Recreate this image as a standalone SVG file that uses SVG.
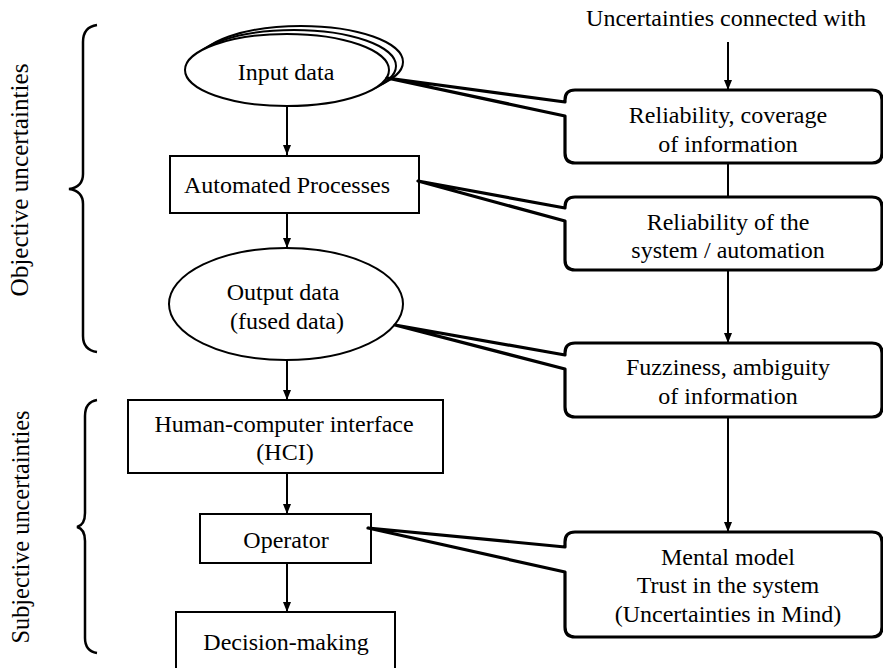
<svg xmlns="http://www.w3.org/2000/svg" width="883" height="668" viewBox="0 0 883 668">
<defs>
<marker id="arr" markerUnits="userSpaceOnUse" markerWidth="10" markerHeight="10" viewBox="0 0 10 10" refX="10" refY="5" orient="auto">
<path d="M0,1 L10,5 L0,9 Z" fill="#000"/>
</marker>
<style>
text{font-family:'Liberation Serif','Times New Roman',Times,'DejaVu Serif',serif;fill:#000;text-anchor:middle}
.t{font-size:24px}
.v{font-size:26px}
.node{fill:#fff;stroke:#000;stroke-width:2}
.call{fill:#fff;stroke:#000;stroke-width:3.2;stroke-linejoin:round}
.conn{fill:none;stroke:#000;stroke-width:2;marker-end:url(#arr)}
.plain{fill:none;stroke:#000;stroke-width:2}
.brace{fill:none;stroke:#000;stroke-width:2.5}
</style>
</defs>
<rect width="883" height="668" fill="#fff"/>

<g id="connectors">
<line class="conn" x1="287" y1="106" x2="287" y2="155"/>
<line class="conn" x1="287" y1="213" x2="287" y2="248"/>
<line class="conn" x1="287" y1="360" x2="287" y2="400"/>
<line class="conn" x1="287" y1="473" x2="287" y2="514"/>
<line class="conn" x1="287" y1="563" x2="287" y2="612"/>
<line class="conn" x1="728" y1="42" x2="728" y2="90"/>
<line class="plain" x1="728" y1="163" x2="728" y2="197"/>
<line class="conn" x1="728" y1="270" x2="728" y2="343"/>
<line class="conn" x1="728" y1="417" x2="728" y2="532"/>
</g>

<g id="input-data">
<ellipse class="node" cx="301" cy="62" rx="102" ry="36"/>
<ellipse class="node" cx="294" cy="66" rx="102" ry="36"/>
<ellipse class="node" cx="287" cy="70" rx="102" ry="36"/>
<text class="t" x="286" y="80" font-family="Liberation Serif, serif">Input data</text>
</g>

<g id="automated-processes">
<rect class="node" x="170" y="156" width="249" height="57"/>
<text class="t" x="287" y="193" font-family="Liberation Serif, serif">Automated Processes</text>
</g>

<g id="output-data">
<ellipse class="node" cx="286" cy="304" rx="117" ry="56"/>
<text class="t" x="283" y="300">Output data</text>
<text class="t" x="287" y="329">(fused data)</text>
</g>

<g id="hci">
<rect class="node" x="128" y="400" width="315" height="73"/>
<text class="t" x="284" y="432">Human-computer interface</text>
<text class="t" x="285" y="460">(HCI)</text>
</g>

<g id="operator">
<rect class="node" x="200" y="514" width="171" height="49"/>
<text class="t" x="286" y="548">Operator</text>
</g>

<g id="decision-making">
<rect class="node" x="176" y="612" width="219" height="60"/>
<text class="t" x="286" y="650">Decision-making</text>
</g>

<g id="header">
<text class="t" x="726" y="26">Uncertainties connected with</text>
</g>

<g id="callout-reliability-coverage">
<path class="call" d="M575 90 H872 Q882 90 882 100 V153 Q882 163 872 163 H575 Q565 163 565 153 V116 L387 78 L565 102 V100 Q565 90 575 90 Z"/>
<text class="t" x="728" y="123">Reliability, coverage</text>
<text class="t" x="728" y="152">of information</text>
</g>

<g id="callout-reliability-system">
<path class="call" d="M575 197 H872 Q882 197 882 207 V260 Q882 270 872 270 H575 Q565 270 565 260 V221 L418 181 L565 208 V207 Q565 197 575 197 Z"/>
<text class="t" x="728" y="230">Reliability of the</text>
<text class="t" x="728" y="258">system / automation</text>
</g>

<g id="callout-fuzziness">
<path class="call" d="M575 343 H872 Q882 343 882 353 V407 Q882 417 872 417 H575 Q565 417 565 407 V369 L395 325 L565 355 V353 Q565 343 575 343 Z"/>
<text class="t" x="728" y="375">Fuzziness, ambiguity</text>
<text class="t" x="728" y="404">of information</text>
</g>

<g id="callout-mental-model">
<path class="call" d="M575 532 H872 Q882 532 882 542 V627 Q882 637 872 637 H575 Q565 637 565 627 V572 L368 528 L565 547 V542 Q565 532 575 532 Z"/>
<text class="t" x="728" y="565">Mental model</text>
<text class="t" x="728" y="593">Trust in the system</text>
<text class="t" x="728" y="622">(Uncertainties in Mind)</text>
</g>

<g id="objective-uncertainties">
<path class="brace" d="M97 25 Q83 27 83 42 V174 Q83 187 69 189 Q83 191 83 204 V336 Q83 350 97 352"/>
<text class="v" transform="translate(28,180) rotate(-90)" textLength="233" lengthAdjust="spacingAndGlyphs">Objective uncertainties</text>
</g>

<g id="subjective-uncertainties">
<path class="brace" d="M97 400 Q85 402 85 416 V513 Q85 525 77 527 Q85 529 85 541 V638 Q85 651 97 653"/>
<text class="v" transform="translate(29,527) rotate(-90)" textLength="233" lengthAdjust="spacingAndGlyphs">Subjective uncertainties</text>
</g>
</svg>
